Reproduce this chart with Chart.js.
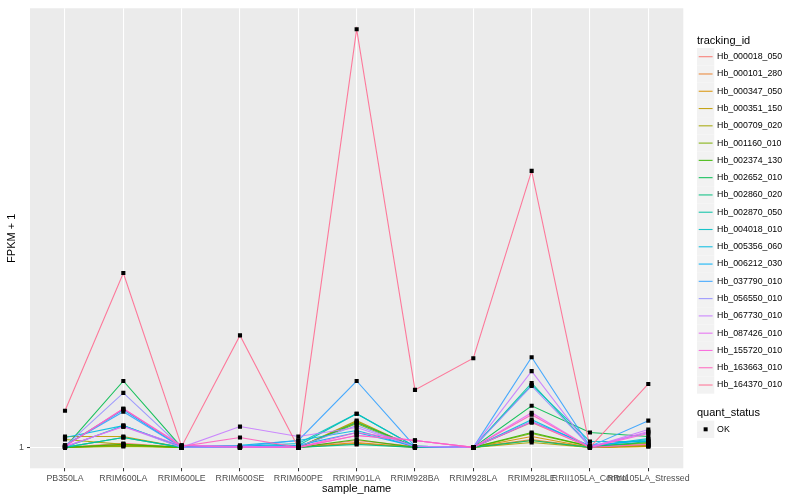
<!DOCTYPE html>
<html>
<head>
<meta charset="utf-8">
<script src="https://cdn.jsdelivr.net/npm/chart.js@4.4.1/dist/chart.umd.min.js"></script>
<style>
html, body { margin: 0; padding: 0; background: #ffffff; }
#wrap { width: 800px; height: 500px; position: relative; }
</style>
</head>
<body>
<div id="wrap"><canvas id="chart"></canvas></div>
<script>
// categories on the x axis
const sampleNames = ['PB350LA', 'RRIM600LA', 'RRIM600LE', 'RRIM600SE', 'RRIM600PE', 'RRIM901LA',
    'RRIM928BA', 'RRIM928LA', 'RRIM928LE', 'RRII105LA_Control', 'RRII105LA_Stressed'];

const trackingIds = ['Hb_000018_050', 'Hb_000101_280', 'Hb_000347_050', 'Hb_000351_150', 'Hb_000709_020',
    'Hb_001160_010', 'Hb_002374_130', 'Hb_002652_010', 'Hb_002860_020', 'Hb_002870_050',
    'Hb_004018_010', 'Hb_005356_060', 'Hb_006212_030', 'Hb_037790_010', 'Hb_056550_010',
    'Hb_067730_010', 'Hb_087426_010', 'Hb_155720_010', 'Hb_163663_010', 'Hb_164370_010'];

const trackColors = ['#F8766D', '#EA8331', '#D89000', '#C09B00', '#A3A500', '#7CAE00', '#39B600',
    '#00BB4E', '#00BF7D', '#00C1A3', '#00BFC4', '#00BAE0', '#00B0F6', '#35A2FF', '#9590FF',
    '#C77CFF', '#E76BF3', '#FA62DB', '#FF62BC', '#FF6C91'];

// FPKM + 1, one array per tracking_id
const hb_000018_050 = [1, 3, 1, 1, 1, 4.5, 1.5, 1, 13.5, 1, 2];
const hb_000101_280 = [1, 2, 1, 1, 1, 3, 1, 1, 5, 1, 2];
const hb_000347_050 = [1, 2, 1, 1, 1, 3.5, 1, 1, 6.5, 1, 1.5];
const hb_000351_150 = [6.5, 6.5, 1, 1, 1, 14, 1, 1, 4.5, 1, 1.5];
const hb_000709_020 = [5, 2.5, 1, 1, 1, 14.5, 1, 1, 3.5, 1, 2];
const hb_001160_010 = [1, 1.5, 1, 1, 1, 13, 1, 1, 8, 1.5, 3];
const hb_002374_130 = [1, 2.5, 1, 1, 1, 5, 1, 1, 8.5, 1.5, 3.5];
const hb_002652_010 = [1, 34.5, 1, 1, 1, 13.5, 1.5, 1, 22, 8.5, 6.5];
const hb_002860_020 = [1, 6, 1, 1, 1, 2.5, 1, 1, 4.5, 1, 4];
const hb_002870_050 = [1, 6, 1, 1, 2, 18, 1.5, 1, 33.5, 1.5, 5];
const hb_004018_010 = [1, 12, 1, 1.5, 3, 18, 1.5, 1, 32.5, 4, 4];
const hb_005356_060 = [6, 12, 1.5, 2, 4.5, 9.5, 1.5, 1, 15, 1.5, 5.5];
const hb_006212_030 = [2, 20, 1, 1.5, 2, 8.5, 1.5, 1, 14, 2, 4.5];
const hb_037790_010 = [2, 19, 1, 1.5, 4.5, 34.5, 1.5, 1, 46.5, 1.5, 14.5];
const hb_056550_010 = [1.5, 28.5, 1, 1, 1.5, 12, 1.5, 1, 32, 1.5, 8.5];
const hb_067730_010 = [1.5, 11.5, 1, 11.5, 6.5, 11, 1.5, 1, 39.5, 1, 10];
const hb_087426_010 = [1.5, 11.5, 2, 1.5, 1, 7, 4.5, 1, 18.5, 1, 9];
const hb_155720_010 = [1.5, 20.5, 2, 1, 1, 8.5, 4.5, 1, 14, 1, 8];
const hb_163663_010 = [1.5, 20.5, 1.5, 6, 1, 7, 4.5, 1, 17.5, 1, 2.5];
const hb_164370_010 = [19.5, 89, 1.5, 57.5, 1, 212, 30, 46, 140.5, 1, 33];

const seriesValues = [hb_000018_050, hb_000101_280, hb_000347_050, hb_000351_150, hb_000709_020,
    hb_001160_010, hb_002374_130, hb_002652_010, hb_002860_020, hb_002870_050,
    hb_004018_010, hb_005356_060, hb_006212_030, hb_037790_010, hb_056550_010,
    hb_067730_010, hb_087426_010, hb_155720_010, hb_163663_010, hb_164370_010];

const yTickValues = [1];
const quantStatus = ['OK'];

const FONT = '"Liberation Sans", Arial, sans-serif';

function withAlpha(hex, a) {
    const n = parseInt(hex.slice(1), 16);
    return 'rgba(' + (n >> 16) + ',' + ((n >> 8) & 255) + ',' + (n & 255) + ',' + a + ')';
}

// lignes : la derniere serie est dessinee au-dessus (comme ggplot)
const lineSets = seriesValues.map((vals, k) => ({
    label: trackingIds[k],
    data: vals.map((v, i) => ({ x: i, y: v })),
    borderColor: withAlpha(trackColors[k], 0.9),
    borderWidth: 1.1,
    pointRadius: 0,
    fill: false,
    tension: 0,
    order: seriesValues.length - k
}));

// tous les points en noir, au-dessus des lignes
const pointSet = {
    label: 'OK',
    data: seriesValues.flatMap(vals => vals.map((v, i) => ({ x: i, y: v }))),
    showLine: false,
    pointStyle: 'rect',
    pointRadius: 2.9,
    pointBackgroundColor: '#000000',
    pointBorderWidth: 0,
    order: 0
};

const panelBackground = {
    id: 'panelBackground',
    beforeDraw(chart) {
        const { ctx, chartArea: a } = chart;
        ctx.save();
        ctx.fillStyle = '#EBEBEB';
        ctx.fillRect(a.left, a.top, a.right - a.left, a.bottom - a.top);
        ctx.restore();
    }
};

const ggLegend = {
    id: 'ggLegend',
    afterDraw(chart) {
        const ctx = chart.ctx;
        const x0 = 697, key = 17.28;
        ctx.save();
        ctx.textBaseline = 'middle';
        ctx.textAlign = 'left';
        ctx.fillStyle = '#000000';
        ctx.font = '11px ' + FONT;
        ctx.fillText('tracking_id', x0, 40.5);
        ctx.font = '8.8px ' + FONT;
        trackingIds.forEach((id, k) => {
            const cy = 56.7 + k * key;
            ctx.fillStyle = '#F2F2F2';
            ctx.fillRect(x0, cy - key / 2, key, key);
            ctx.strokeStyle = withAlpha(trackColors[k], 0.9);
            ctx.lineWidth = 1.1;
            ctx.beginPath();
            ctx.moveTo(x0 + 1.7, cy);
            ctx.lineTo(x0 + key - 1.7, cy);
            ctx.stroke();
            ctx.fillStyle = '#000000';
            ctx.fillText(id, x0 + key + 2.8, cy);
        });
        ctx.font = '11px ' + FONT;
        ctx.fillText('quant_status', x0, 412.5);
        ctx.font = '8.8px ' + FONT;
        quantStatus.forEach((s, k) => {
            const cy = 429.3 + k * key;
            ctx.fillStyle = '#F2F2F2';
            ctx.fillRect(x0, cy - key / 2, key, key);
            ctx.fillStyle = '#000000';
            ctx.fillRect(x0 + key / 2 - 2, cy - 2, 4, 4);
            ctx.fillText(s, x0 + key + 2.8, cy);
        });
        ctx.restore();
    }
};

new Chart(document.getElementById('chart'), {
    type: 'line',
    data: { datasets: [...lineSets, pointSet] },
    options: {
        responsive: true,
        maintainAspectRatio: false,
        animation: false,
        devicePixelRatio: 1,
        layout: { padding: { left: 0, right: 116.7, top: 5.5, bottom: 0 } },
        plugins: { legend: { display: false }, tooltip: { enabled: false } },
        scales: {
            x: {
                type: 'linear',
                min: -0.6,
                max: sampleNames.length - 1 + 0.6,
                afterBuildTicks: s => { s.ticks = sampleNames.map((n, i) => ({ value: i })); },
                afterFit: s => { s.height = 31.7; },
                ticks: {
                    autoSkip: false, maxRotation: 0, minRotation: 0, padding: 2,
                    color: '#4D4D4D', font: { family: FONT, size: 8.8 },
                    callback: v => sampleNames[v]
                },
                grid: { color: '#FFFFFF', lineWidth: 1.07, tickColor: '#333333', tickLength: 3, tickWidth: 1 },
                border: { display: false },
                title: { display: true, text: 'sample_name', color: '#000000',
                    font: { family: FONT, size: 11 }, padding: { top: 0, bottom: 4.4 } }
            },
            y: {
                type: 'linear',
                min: -9.55,
                max: 222.55,
                afterBuildTicks: s => { s.ticks = yTickValues.map(v => ({ value: v })); },
                afterFit: s => { s.width = 30; },
                ticks: { padding: 3, color: '#4D4D4D', font: { family: FONT, size: 8.8 } },
                grid: { color: '#FFFFFF', lineWidth: 1.07, tickColor: '#333333', tickLength: 3, tickWidth: 1 },
                border: { display: false },
                title: { display: true, text: 'FPKM + 1', color: '#000000',
                    font: { family: FONT, size: 11 }, padding: { top: 5.4, bottom: 0 } }
            }
        }
    },
    plugins: [panelBackground, ggLegend]
});
</script>
</body>
</html>
